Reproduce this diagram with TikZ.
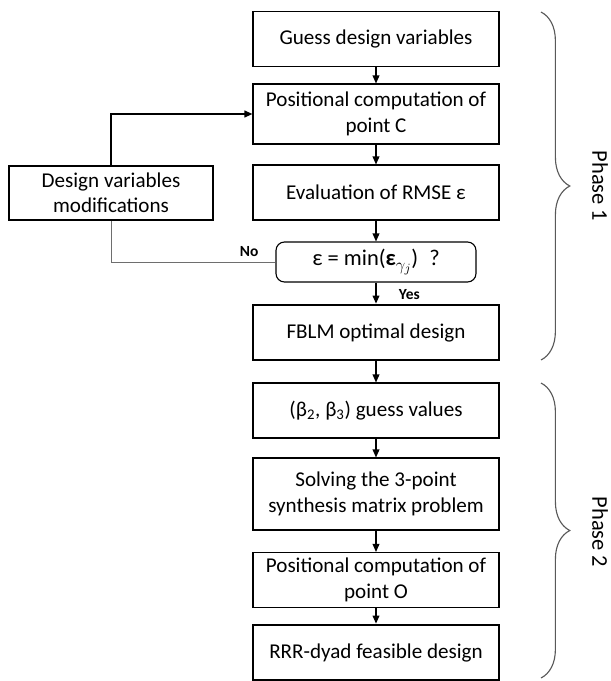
\documentclass[tikz,border=0pt]{standalone}
\usepackage{fontspec}
\setmainfont{Carlito}
\usetikzlibrary{arrows.meta, decorations.pathreplacing, positioning}
\definecolor{bracegray}{HTML}{595959}
\definecolor{loopgray}{HTML}{6E6E6E}
\tikzset{
  % blocco del diagramma di flusso
  box/.style={draw=black, line width=0.8pt, minimum width=6.15cm, minimum height=1.375cm,
    align=center, fill=white, font=\fontsize{15}{18}\selectfont, inner sep=2pt},
  % blocco finale di una fase
  boxfin/.style={box, line width=2pt},
  % blocco di test
  boxtest/.style={box, rounded corners=6pt, minimum width=5cm, minimum height=1cm,
    font=\fontsize{16}{19}\selectfont},
  % freccia di flusso
  flow/.style={-{Triangle[length=2mm, width=1.7mm]}, line width=0.8pt},
  % etichette Si/No
  yn/.style={font=\fontsize{11}{13}\selectfont\bfseries},
  % graffa delle fasi
  phase/.style={decorate, decoration={brace, amplitude=0.72cm}, draw=bracegray, line width=0.8pt},
  phaselbl/.style={rotate=-90, font=\fontsize{16}{19}\selectfont},
}

\begin{document}
\begin{tikzpicture}
  \useasboundingbox (0,0) rectangle (15.275,-17.025);
  % fase 1
  \node[box] (guess) at (9.4,-0.975) {Guess design variables};
  \node[box, minimum height=1.5cm] (posC) at (9.4,-2.85) {Positional computation of\\point C};
  \node[box] (rmse) at (9.4,-4.8125) {Evaluation of RMSE ε};
  \node[boxtest] (dec) at (9.4,-6.55) {ε = min(\textbf{ε}{\fontsize{13}{13}\selectfont\raisebox{-0.55ex}{$\gamma_j$}})\enspace ?};
  \node[boxfin] (fblm) at (9.4,-8.3125) {FBLM optimal design};
  \node[box, minimum width=5.1cm, minimum height=1.35cm] (modif) at (2.775,-4.825) {Design variables\\modifications};
  % fase 2
  \node[box] (beta) at (9.4,-10.2625) {(β\textsubscript{2}, β\textsubscript{3}) guess values};
  \node[box, minimum height=1.8cm] (solve) at (9.4,-12.35) {Solving the 3-point\\synthesis matrix problem};
  \node[box] (posO) at (9.4,-14.5) {Positional computation of\\point O};
  \node[boxfin] (rrr) at (9.4,-16.3125) {RRR-dyad feasible design};
  \foreach \a/\b in {guess/posC, posC/rmse, rmse/dec, dec/fblm, fblm/beta, beta/solve, solve/posO, posO/rrr}
    \draw[flow] (\a) -- (\b);
  % ciclo di modifica
  \draw[flow, line width=1.1pt] (modif.north) |- (posC.west);
  \draw[loopgray, line width=0.6pt] (dec.west) -| (modif.south);
  \node[yn, above left=0.02cm and 0.3cm of dec.west] (no) {No};
  \node[yn, below right=0.05cm and 0.45cm of dec.south] (yes) {Yes};
  % graffe
  \coordinate (p1a) at (13.525,-0.3); \coordinate (p1b) at (13.525,-9.0);
  \coordinate (p2a) at (13.525,-9.575); \coordinate (p2b) at (13.525,-16.95);
  \draw[phase] (p1a) -- (p1b);
  \draw[phase] (p2a) -- (p2b);
  \node[phaselbl] (ph1) at (15.0,-4.65) {Phase 1};
  \node[phaselbl] (ph2) at (15.0,-13.3) {Phase 2};
\end{tikzpicture}
\end{document}
